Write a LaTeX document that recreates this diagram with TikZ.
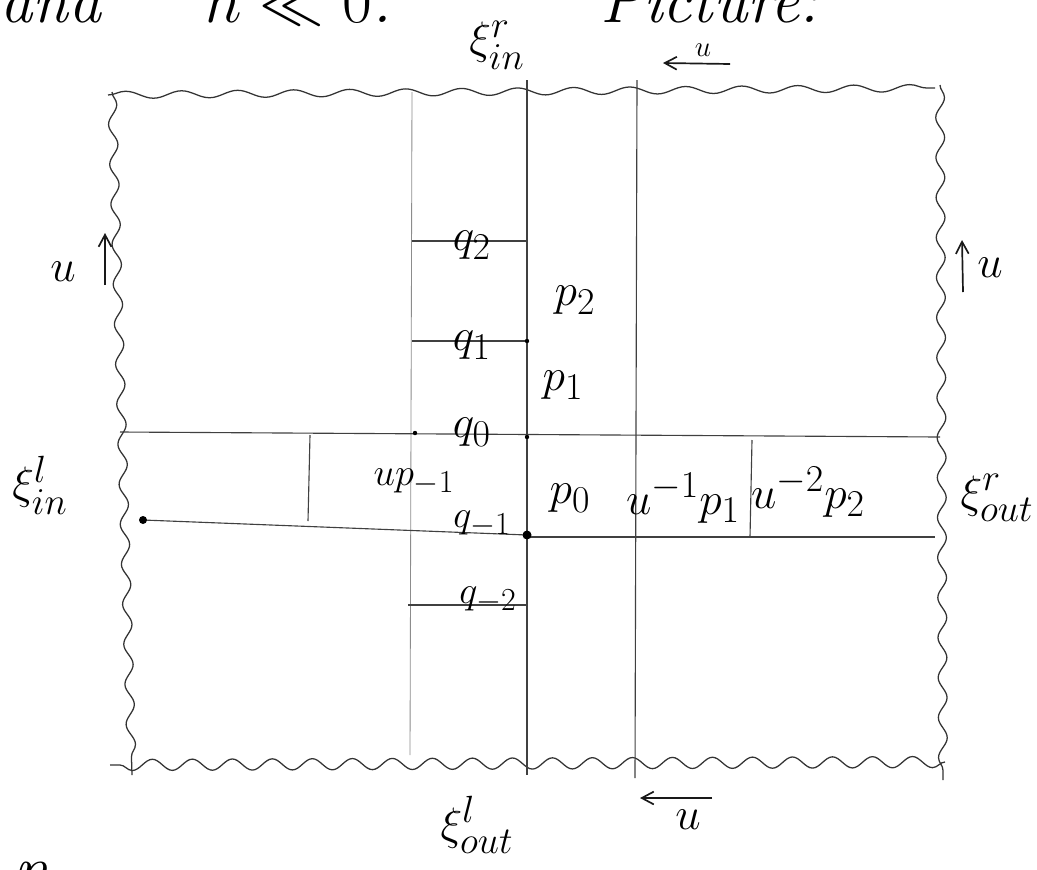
\documentclass[tikz,border=0pt]{standalone}
\usepackage{amsmath,amssymb}
\usetikzlibrary{arrows.meta,decorations.pathmorphing}
\tikzset{
  rim/.style={decorate, decoration={snake, amplitude=1.1mm, segment length=11mm},
    draw=black!80, line width=0.9pt},
  cut/.style={draw=black!75, line width=0.8pt},
  faint/.style={draw=black!45, line width=0.6pt},
  lbl/.style={font=\Huge, scale=1.3, inner sep=0pt},
  mid lbl/.style={font=\Huge, scale=1.1, inner sep=0pt},
  small lbl/.style={font=\huge, inner sep=0pt},
  head/.style={font=\Huge\itshape, scale=1.85, inner sep=0pt, anchor=base west},
  uarr/.style={-{Straight Barb[length=3mm,width=3.2mm]}, line width=1.2pt, draw=black!90},
  dotpt/.style={fill=black},
}

\begin{document}
\begin{tikzpicture}[x=0.025cm, y=-0.025cm]
  \useasboundingbox (0,0) rectangle (1037,869);
  \clip (0,0) rectangle (1037,869);
  % the lines of text above and below, cut off
  \node[head] (txtand) at (0,22) {and};
  \node[head] (txth) at (205,22) {$h \ll 0$.};
  \node[head] (txtpic) at (600,22) {Picture:};
  \node[head] (txtnext) at (14,890) {n};
  % wavy outer edge
  \draw[rim, decoration={amplitude=0.9mm, segment length=14mm}] (108,95) -- (935,88);
  \draw[rim, decoration={segment length=10mm}] (112,92) -- (132,775);
  \draw[rim, decoration={segment length=10mm}] (940,85) -- (943,780);
  \draw[rim, decoration={amplitude=1.4mm, segment length=10mm}] (945,762) -- (110,765);
  % the strips
  \draw[faint] (412,92) -- (410,755);
  \draw[cut] (527,80) -- (527,775);
  \draw[cut] (637,80) -- (635,778);
  \draw[cut] (120,432) -- (940,437);
  \draw[cut] (143,520) -- (527,535);
  \draw[cut] (527,537) -- (935,537);
  \draw[cut] (310,435) -- (308,521);
  \draw[cut] (752,440) -- (750,537);
  \foreach \y in {241,341} \draw[cut] (412,\y) -- (527,\y);
  \draw[cut] (408,605) -- (527,605);
  % marked points
  \coordinate (lend) at (143,520);
  \coordinate (mid) at (527,535);
  \fill[dotpt] (lend) circle (4);
  \fill[dotpt] (mid) circle (4.5);
  \foreach \p in {(415,433),(527,437),(527,341)} \fill[dotpt] \p circle (2.2);
  % shift arrows
  \draw[uarr] (105,285) -- (105,233);
  \draw[uarr] (963,292) -- (962,240);
  \draw[uarr] (730,64) -- (663,63);
  \draw[uarr] (712,798) -- (640,798);
  \node[lbl] (uleft) at (63,272) {$u$};
  \node[lbl] (uright) at (990,268) {$u$};
  \node[small lbl] (utop) at (703,50) {$u$};
  \node[lbl] (ubot) at (688,820) {$u$};
  % flux labels
  \node[lbl] (xirin) at (497,45) {$\xi^{r}_{in}$};
  \node[lbl] (xilin) at (40,485) {$\xi^{l}_{in}$};
  \node[lbl] (xirout) at (997,498) {$\xi^{r}_{out}$};
  \node[lbl] (xilout) at (477,825) {$\xi^{l}_{out}$};
  % q column
  \node[lbl] (q2) at (472,245) {$q_2$};
  \node[lbl] (q1) at (472,345) {$q_1$};
  \node[lbl] (q0) at (472,432) {$q_0$};
  \node[mid lbl] (qm1) at (482,524) {$q_{-1}$};
  \node[mid lbl] (qm2) at (488,600) {$q_{-2}$};
  % p cells
  \node[lbl] (p2) at (575,300) {$p_2$};
  \node[lbl] (p1) at (563,385) {$p_1$};
  \node[lbl] (p0) at (570,498) {$p_0$};
  \node[mid lbl] (upm1) at (414,482) {$u p_{-1}$};
  \node[lbl] (up1) at (683,498) {$u^{-1}p_1$};
  \node[lbl] (up2) at (808,492) {$u^{-2}p_2$};
\end{tikzpicture}
\end{document}
